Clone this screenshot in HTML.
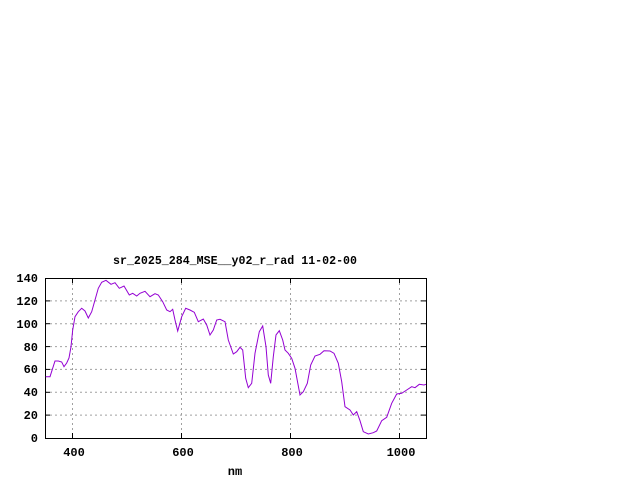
<!DOCTYPE html>
<html><head><meta charset="utf-8"><style>body{margin:0;background:#fff}svg{display:block}</style></head>
<body>
<svg width="640" height="480" xmlns="http://www.w3.org/2000/svg" font-family="Liberation Mono, monospace" font-size="12" font-weight="bold">
<rect width="640" height="480" fill="#fff"/>
<g stroke="#a0a0a0" stroke-dasharray="2,3" stroke-width="1">
<line x1="45" y1="415.1" x2="426" y2="415.1"/>
<line x1="45" y1="392.3" x2="426" y2="392.3"/>
<line x1="45" y1="369.4" x2="426" y2="369.4"/>
<line x1="45" y1="346.6" x2="426" y2="346.6"/>
<line x1="45" y1="323.7" x2="426" y2="323.7"/>
<line x1="45" y1="300.9" x2="426" y2="300.9"/>
<line x1="72.5" y1="278" x2="72.5" y2="438"/>
<line x1="181.5" y1="278" x2="181.5" y2="438"/>
<line x1="290.5" y1="278" x2="290.5" y2="438"/>
<line x1="399.5" y1="278" x2="399.5" y2="438"/>
</g>
<g stroke="#000" stroke-width="1">
<line x1="45" y1="415.1" x2="50" y2="415.1"/><line x1="45" y1="392.3" x2="50" y2="392.3"/><line x1="45" y1="369.4" x2="50" y2="369.4"/><line x1="45" y1="346.6" x2="50" y2="346.6"/><line x1="45" y1="323.7" x2="50" y2="323.7"/><line x1="45" y1="300.9" x2="50" y2="300.9"/>
<line x1="421" y1="415.1" x2="426" y2="415.1"/><line x1="421" y1="392.3" x2="426" y2="392.3"/><line x1="421" y1="369.4" x2="426" y2="369.4"/><line x1="421" y1="346.6" x2="426" y2="346.6"/><line x1="421" y1="323.7" x2="426" y2="323.7"/><line x1="421" y1="300.9" x2="426" y2="300.9"/>
<line x1="72.5" y1="438" x2="72.5" y2="433"/><line x1="181.5" y1="438" x2="181.5" y2="433"/><line x1="290.5" y1="438" x2="290.5" y2="433"/><line x1="399.5" y1="438" x2="399.5" y2="433"/>
<line x1="72.5" y1="278" x2="72.5" y2="283"/><line x1="181.5" y1="278" x2="181.5" y2="283"/><line x1="290.5" y1="278" x2="290.5" y2="283"/><line x1="399.5" y1="278" x2="399.5" y2="283"/>
</g>
<rect x="45.5" y="278.5" width="381" height="160" fill="none" stroke="#000" stroke-width="1"/>
<polyline fill="none" stroke="#9400d3" stroke-width="1" points="45.7,376.7 50,376.7 55,361 58.3,361 61.7,362 64,366.7 66.7,363 69,358 71,346.7 72.7,330 75,316.7 78.3,311.7 81.7,308.3 85,311 88.3,318 91.7,311.7 95,300 98.3,288.3 101.7,282.3 106,280.3 111,284.3 115,282.7 119.3,288.3 124,286 129.3,295 132.7,293.3 136.7,296 140,293.3 145,291.3 150,296.7 155,293.7 158.3,295 162.7,301.7 166.7,310 170,311.7 172.7,309.3 175,320 177.7,331 181.7,316.7 185.7,308.3 190,310 194.3,312.3 198.3,321.7 203.3,319 206.7,325 210,335 213.3,330 216.7,320 220,319.3 225,321.7 228.3,340 233.3,354 236.7,351.7 240,347.3 242.7,350 245.7,378.3 248.3,387.7 251.7,383.3 255,353.3 259.3,331.7 262.7,326 266,346.7 268.3,375 270.7,383.3 273.3,356.7 276,335 279.3,330.7 282.7,340 285,350 288.3,353.3 291.7,358.3 295,368.3 300,395 303.3,391.7 307.3,383.3 310.7,365 315,356 320,354.3 324,350.7 330,351 334,353.3 338.3,363.3 341.7,381.7 345,406.7 350,410 353.3,415 356.7,411.7 360,420.7 363.3,431.7 368.3,434 373.3,432.7 376.7,431 381.7,420.7 386.7,417.3 391.7,403.3 396.7,394 401.7,393.3 406.7,390 411.7,386.7 415,387.7 419.3,384.3 424,385 426,384.3"/>
<g text-anchor="end">
<text x="38" y="442">0</text><text x="38" y="419">20</text><text x="38" y="396">40</text><text x="38" y="373">60</text><text x="38" y="351">80</text><text x="38" y="328">100</text><text x="38" y="305">120</text><text x="38" y="282">140</text>
</g>
<g text-anchor="middle">
<text x="74" y="456">400</text><text x="183" y="456">600</text><text x="292" y="456">800</text><text x="401" y="456">1000</text>
<text x="235" y="475">nm</text>
</g>
<text x="113" y="264" textLength="244" lengthAdjust="spacingAndGlyphs">sr_2025_284_MSE__y02_r_rad 11-02-00</text>
</svg>
</body></html>
